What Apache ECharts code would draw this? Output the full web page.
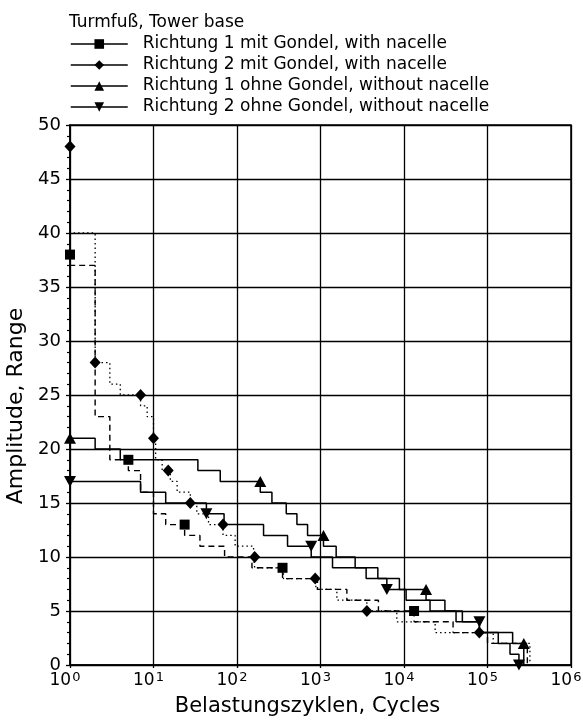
<!DOCTYPE html>
<html>
<head>
<meta charset="utf-8">
<script src="https://cdn.jsdelivr.net/npm/echarts@6/dist/echarts.min.js"></script>
<style>
html,body{margin:0;padding:0;background:#fff;}
#chart{width:583px;height:722px;}
</style>
</head>
<body>
<div id="chart"></div>
<script>
// ---- data (step vertices: each point starts a level) ----
const names = [
  'Richtung 1 mit Gondel, with nacelle',
  'Richtung 2 mit Gondel, with nacelle',
  'Richtung 1 ohne Gondel, without nacelle',
  'Richtung 2 ohne Gondel, without nacelle'
];
const titleText = 'Turmfuß, Tower base';
const xAxisName = 'Belastungszyklen, Cycles';
const yAxisName = 'Amplitude, Range';

// Richtung 1 mit Gondel (square, dashed)
const r1mitX = [1, 1, 2, 3, 5, 7, 10, 14, 23.6, 36, 71, 151, 351, 920, 2070, 4940, 13200, 38700, 100000, 300000];
const r1mitY = [38, 37, 23, 19, 18, 16, 14, 13, 12, 11, 10, 9, 8, 7, 6, 5, 4, 3, 2, 0];
const r1mitMarkX = [1, 5, 23.6, 351, 13200];
const r1mitMarkY = [38, 19, 13, 9, 5];

// Richtung 2 mit Gondel (diamond, dotted)
const r2mitX = [1, 1, 2, 3, 4, 7, 8.4, 10, 10.6, 12.7, 15.9, 19.2, 27.6, 33, 45.6, 68, 95, 158, 163, 360, 880, 1570, 3590, 8200, 23600, 117000, 322000];
const r2mitY = [48, 40, 28, 26, 25, 24, 23, 21, 19, 18, 17, 16, 15, 14, 13, 12, 11, 10, 9, 8, 7, 6, 5, 4, 3, 2, 0];
const r2mitMarkX = [1, 2, 7, 10, 15, 27.6, 68, 163, 864, 3590, 79800];
const r2mitMarkY = [48, 28, 25, 21, 18, 15, 13, 10, 8, 5, 3];

// Richtung 1 ohne Gondel (triangle up, solid)
const r1ohneX = [1, 2, 4, 34, 63, 190, 262, 389, 522, 700, 1086, 1540, 2600, 4860, 8810, 18370, 30900, 50000, 80000, 200000, 272000];
const r1ohneY = [21, 20, 19, 18, 17, 16, 15, 14, 13, 12, 11, 10, 9, 8, 7, 6, 5, 4, 3, 2, 0];
const r1ohneMarkX = [1, 190, 1086, 18370, 272000];
const r1ohneMarkY = [21, 17, 12, 7, 2];

// Richtung 2 ohne Gondel (triangle down, solid)
const r2ohneX = [1, 7, 14, 43, 70, 208, 403, 774, 1393, 3520, 6230, 10600, 20500, 42000, 80000, 134600, 186000, 238000];
const r2ohneY = [17, 16, 15, 14, 13, 12, 11, 10, 9, 8, 7, 6, 5, 4, 3, 2, 1, 0];
const r2ohneMarkX = [1, 43, 774, 6230, 80000, 238000];
const r2ohneMarkY = [17, 14, 11, 7, 4, 0];

const yTicks = [0, 5, 10, 15, 20, 25, 30, 35, 40, 45, 50];

// ---- build ----
const FONT = 'DejaVu Sans';
const pair = (xs, ys) => xs.map((x, i) => [x, ys[i]]);
const triDown = 'path://M0,0L10,0L5,9Z';

const defs = [
  {name: names[0], x: r1mitX, y: r1mitY, mx: r1mitMarkX, my: r1mitMarkY, symbol: 'rect', size: 10, type: [6, 4], width: 1.4},
  {name: names[1], x: r2mitX, y: r2mitY, mx: r2mitMarkX, my: r2mitMarkY, symbol: 'diamond', size: [11, 12], type: [1.5, 3], width: 1.3},
  {name: names[2], x: r1ohneX, y: r1ohneY, mx: r1ohneMarkX, my: r1ohneMarkY, symbol: 'triangle', size: [12, 11], type: 'solid', width: 1.5},
  {name: names[3], x: r2ohneX, y: r2ohneY, mx: r2ohneMarkX, my: r2ohneMarkY, symbol: triDown, size: [12, 11], type: 'solid', width: 1.5}
];

const series = [];
defs.forEach(d => {
  series.push({
    type: 'line', name: d.name, step: 'end', data: pair(d.x, d.y),
    symbol: d.symbol, showSymbol: false, clip: false,
    lineStyle: {color: '#000', width: d.width, type: d.type},
    itemStyle: {color: '#000', opacity: 1}, z: 3
  });
});
defs.forEach(d => {
  series.push({
    type: 'scatter', name: d.name, data: pair(d.mx, d.my),
    symbol: d.symbol, symbolSize: d.size, clip: false,
    itemStyle: {color: '#000', opacity: 1}, z: 4
  });
});

const chart = echarts.init(document.getElementById('chart'), null, {renderer: 'canvas'});
chart.setOption({
  animation: false,
  backgroundColor: '#fff',
  textStyle: {fontFamily: FONT, color: '#000'},
  title: {
    text: titleText, left: 69, top: 14, padding: 0,
    textStyle: {fontFamily: FONT, fontSize: 17, fontWeight: 'normal', color: '#000'}
  },
  legend: {
    orient: 'vertical', left: 70, top: 35, padding: 0,
    itemWidth: 57, itemHeight: 12, itemGap: 3,
    data: names,
    lineStyle: {type: 'solid', width: 1.5, color: '#000'},
    itemStyle: {color: '#000', opacity: 1},
    textStyle: {fontFamily: FONT, fontSize: 17, color: '#000', padding: [0, 0, 0, 10], lineHeight: 18}
  },
  grid: {
    left: 70, right: 12, top: 125, bottom: 57,
    outerBoundsMode: 'none', containLabel: false,
    show: true, borderColor: '#000', borderWidth: 1.5, backgroundColor: 'transparent'
  },
  xAxis: {
    type: 'log', logBase: 10, min: 1, max: 1000000,
    name: xAxisName, nameLocation: 'middle', nameGap: 31,
    nameTextStyle: {fontFamily: FONT, fontSize: 21, color: '#000', padding: [0, 26, 0, 0]},
    axisLine: {lineStyle: {color: '#000', width: 1.5}},
    axisTick: {show: true, length: 3, lineStyle: {color: '#000', width: 1.3}},
    minorTick: {show: false},
    splitLine: {show: true, lineStyle: {color: '#000', width: 1.3}},
    axisLabel: {
      margin: 6, color: '#000', padding: [0, 10, 0, 0],
      formatter: v => '{b|10}{s|' + Math.round(Math.log10(v)) + '}',
      rich: {
        b: {fontFamily: FONT, fontSize: 17, color: '#000'},
        s: {fontFamily: FONT, fontSize: 13, color: '#000', verticalAlign: 'top', padding: [0, 0, 6, 1]}
      }
    }
  },
  yAxis: {
    type: 'value', min: 0, max: 50, interval: 5,
    name: yAxisName, nameLocation: 'middle', nameGap: 32, nameRotate: 90,
    nameTextStyle: {fontFamily: FONT, fontSize: 22, color: '#000', padding: [0, 22, 0, 0]},
    axisLine: {show: true, lineStyle: {color: '#000', width: 1.5}},
    axisTick: {show: true, length: 4, lineStyle: {color: '#000', width: 1.3}},
    minorTick: {show: true, splitNumber: 5, length: 3, lineStyle: {color: '#000', width: 1.2}},
    splitLine: {show: true, lineStyle: {color: '#000', width: 1.3}},
    axisLabel: {
      margin: 9, color: '#000', fontFamily: FONT, fontSize: 18,
      formatter: v => (yTicks.indexOf(v) >= 0 ? String(v) : '')
    }
  },
  series: series
});
</script>
</body>
</html>
